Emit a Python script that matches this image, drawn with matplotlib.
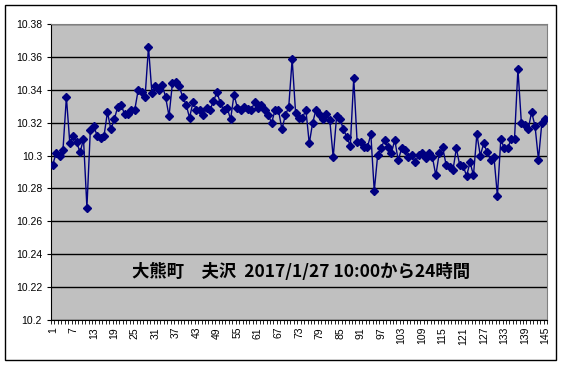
import numpy as np
import matplotlib
matplotlib.use('Agg')
import matplotlib.pyplot as plt
from matplotlib.patches import Rectangle

# values (145 readings, 10 min interval)
values = [
    10.2944, 10.3014, 10.3000, 10.3034, 10.3356, 10.3074, 10.3120, 10.3080, 10.3020, 10.3100,
    10.2684, 10.3156, 10.3180, 10.3120, 10.3108, 10.3120, 10.3264, 10.3160, 10.3220, 10.3296,
    10.3310, 10.3250, 10.3250, 10.3280, 10.3280, 10.3400, 10.3386, 10.3356, 10.3660, 10.3380,
    10.3420, 10.3400, 10.3430, 10.3356, 10.3240, 10.3440, 10.3450, 10.3420, 10.3356, 10.3310,
    10.3230, 10.3324, 10.3280, 10.3280, 10.3244, 10.3290, 10.3280, 10.3330, 10.3386, 10.3320,
    10.3274, 10.3290, 10.3220, 10.3370, 10.3290, 10.3274, 10.3294, 10.3286, 10.3274, 10.3324,
    10.3290, 10.3310, 10.3280, 10.3244, 10.3200, 10.3276, 10.3276, 10.3160, 10.3244, 10.3296,
    10.3586, 10.3260, 10.3230, 10.3226, 10.3280, 10.3074, 10.3200, 10.3280, 10.3244, 10.3220,
    10.3250, 10.3214, 10.2990, 10.3240, 10.3220, 10.3160, 10.3110, 10.3060, 10.3470, 10.3080,
    10.3080, 10.3050, 10.3050, 10.3130, 10.2784, 10.3004, 10.3044, 10.3096, 10.3050, 10.3014,
    10.3096, 10.2970, 10.3044, 10.3034, 10.2990, 10.3004, 10.2960, 10.3004, 10.3014, 10.2984,
    10.3014, 10.2990, 10.2880, 10.3014, 10.3050, 10.2944, 10.2930, 10.2910, 10.3044, 10.2940,
    10.2936, 10.2876, 10.2960, 10.2880, 10.3130, 10.3000, 10.3074, 10.3020, 10.2976, 10.2990,
    10.2756, 10.3100, 10.3044, 10.3044, 10.3100, 10.3100, 10.3526, 10.3200, 10.3186, 10.3160,
    10.3264, 10.3180, 10.2976, 10.3200, 10.3220,
]
x = np.arange(1, len(values) + 1)
y_ticks = [10.2, 10.22, 10.24, 10.26, 10.28, 10.3, 10.32, 10.34, 10.36, 10.38]
x_ticks = list(range(1, 146, 6))
title = '大熊町\u3000夫沢  2017/1/27 10:00から24時間'

plt.rcParams['font.family'] = ['Liberation Sans', 'DejaVu Sans']

fig = plt.figure(figsize=(5.63, 3.65), dpi=100)
ax = fig.add_axes([51 / 563, 1 - 320 / 365, 496 / 563, 296 / 365])
ax.set_facecolor('#c0c0c0')

ax.plot(x, values, color='#000080', lw=1, marker='D', ms=4,
        markerfacecolor='#000080', markeredgecolor='#000080', zorder=3)

ax.set_xlim(0.5, len(values) + 0.5)
ax.set_ylim(10.2, 10.38)
ax.set_yticks(y_ticks)
ax.set_yticklabels([('%g' % v) for v in y_ticks], fontsize=7.5)
ax.set_xticks(x_ticks)
ax.set_xticklabels([str(t) for t in x_ticks], rotation=90, fontsize=7.5)
ax.set_xticks(np.arange(0.5, len(values) + 1, 1), minor=True)
ax.tick_params(axis='x', which='major', length=0, pad=5)
ax.tick_params(axis='x', which='minor', length=3, direction='out', width=0.6)
ax.tick_params(axis='y', length=3, direction='out', width=0.8)
ax.grid(axis='y', color='black', lw=1)
ax.set_axisbelow(True)
for s in ['top', 'right']:
    ax.spines[s].set_color('#808080')
for s in ['left', 'bottom']:
    ax.spines[s].set_color('black')

ax.text(0.505, 0.162, title, transform=ax.transAxes, ha='center', va='center',
        fontsize=12.5, fontweight='bold', family=['Noto Sans CJK JP', 'DejaVu Sans'])

# chart area border
fig.patches.append(Rectangle((5 / 563, 1 - 360 / 365), 551 / 563, 355 / 365,
                             transform=fig.transFigure, fill=False,
                             edgecolor='black', lw=1))

plt.savefig('out.png', dpi=100)
